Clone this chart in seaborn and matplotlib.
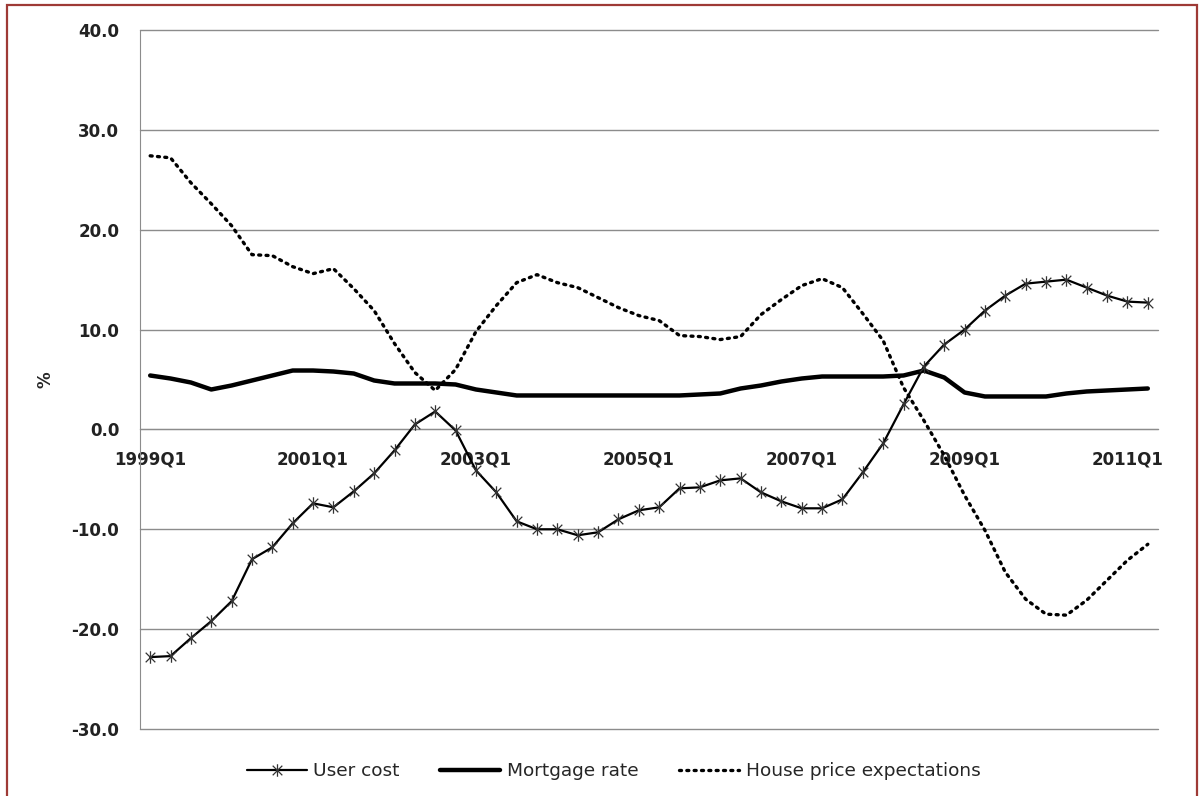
import numpy as np
import pandas as pd
import matplotlib
matplotlib.use("Agg")
import matplotlib.pyplot as plt
import seaborn as sns
from matplotlib.lines import Line2D
from matplotlib.path import Path
from matplotlib.patches import Rectangle

# quarterly data, 1999Q1 - 2011Q2
quarters = [f"{y}Q{q}" for y in range(1999, 2012) for q in range(1, 5)][:50]
tick_labels = ['1999Q1', '2001Q1', '2003Q1', '2005Q1', '2007Q1', '2009Q1', '2011Q1']

user_cost = [-22.8, -22.7, -20.9, -19.2, -17.2, -13.0, -11.8, -9.4, -7.4, -7.8,
             -6.2, -4.4, -2.1, 0.5, 1.8, -0.1, -4.1, -6.3, -9.2, -10.0,
             -10.0, -10.6, -10.3, -9.0, -8.1, -7.8, -5.9, -5.8, -5.1, -4.9,
             -6.3, -7.2, -7.9, -7.9, -7.0, -4.3, -1.4, 2.5, 6.3, 8.5,
             10.0, 11.9, 13.4, 14.6, 14.8, 15.0, 14.2, 13.4, 12.8, 12.7]

mortgage_rate = [5.4, 5.1, 4.7, 4.0, 4.4, 4.9, 5.4, 5.9, 5.9, 5.8,
                 5.6, 4.9, 4.6, 4.6, 4.6, 4.5, 4.0, 3.7, 3.4, 3.4,
                 3.4, 3.4, 3.4, 3.4, 3.4, 3.4, 3.4, 3.5, 3.6, 4.1,
                 4.4, 4.8, 5.1, 5.3, 5.3, 5.3, 5.3, 5.4, 5.9, 5.2,
                 3.7, 3.3, 3.3, 3.3, 3.3, 3.6, 3.8, 3.9, 4.0, 4.1]

house_price_exp = [27.4, 27.2, 24.7, 22.6, 20.4, 17.5, 17.4, 16.3, 15.6, 16.1,
                   14.1, 11.9, 8.6, 5.7, 3.9, 6.0, 9.8, 12.4, 14.7, 15.5,
                   14.7, 14.2, 13.2, 12.2, 11.4, 10.9, 9.4, 9.3, 9.0, 9.3,
                   11.5, 13.0, 14.4, 15.1, 14.2, 11.6, 8.9, 4.2, 0.9, -2.6,
                   -6.6, -10.1, -14.3, -17.0, -18.5, -18.6, -17.1, -15.1, -13.1, -11.5]

df = pd.DataFrame({
    'idx': np.arange(len(quarters)),
    'quarter': quarters,
    'User cost': user_cost,
    'Mortgage rate': mortgage_rate,
    'House price expectations': house_price_exp,
})

sns.set_style('white')
plt.rcParams['font.family'] = ['DejaVu Sans']

# asterisk marker: an x with a vertical bar
star = Path([(-1, -1), (1, 1), (-1, 1), (1, -1), (0, -1.3), (0, 1.3)],
            [Path.MOVETO, Path.LINETO, Path.MOVETO, Path.LINETO, Path.MOVETO, Path.LINETO])

fig = plt.figure(figsize=(12.03, 7.96), dpi=100)
ax = fig.add_axes([140 / 1203, 1 - 729 / 796, (1158 - 140) / 1203, (729 - 30) / 796])

sns.lineplot(data=df, x='idx', y='User cost', ax=ax, color='black', lw=1.6,
             marker=star, markersize=9, markeredgecolor='#333333',
             markeredgewidth=0.9, zorder=4)
sns.lineplot(data=df, x='idx', y='Mortgage rate', ax=ax, color='black', lw=3.2, zorder=3)
sns.lineplot(data=df, x='idx', y='House price expectations', ax=ax, color='black',
             lw=2.4, linestyle=(0, (0.6, 1.6)), dash_capstyle='round', zorder=3)

# spine position first: moving it resets the tick objects
for s in ['top', 'right']:
    ax.spines[s].set_visible(False)
ax.spines['bottom'].set_position(('data', 0))
ax.spines['bottom'].set_color('#8c8c8c')
ax.spines['left'].set_color('#8c8c8c')

ax.set_xlim(-0.5, 49.5)
ax.set_ylim(-30, 40)
ax.set_yticks(np.arange(-30, 41, 10))
ax.set_yticklabels([f"{v:.1f}" for v in np.arange(-30, 41, 10)],
                   fontsize=12, fontweight='bold', color='#222222')
ax.yaxis.grid(True, color='#8c8c8c', lw=1)
ax.set_axisbelow(True)
for gl in ax.get_ygridlines():
    gl.set_clip_on(False)

# labels every 8 quarters, tick marks on category boundaries
ax.set_xticks(np.arange(0, 50, 8))
ax.set_xticklabels(tick_labels, fontsize=12, fontweight='bold', color='#222222')
ax.set_xticks(np.arange(-0.5, 50, 1), minor=True)
ax.tick_params(axis='x', which='major', length=0, pad=15)
ax.tick_params(axis='x', which='minor', length=5, width=1, color='#8c8c8c', direction='out')
ax.tick_params(axis='y', length=5, width=1, color='#8c8c8c', pad=10)

ax.set_xlabel('')
ax.set_ylabel('%', fontsize=12, fontweight='bold', labelpad=12)

legend_elements = [
    Line2D([0], [0], color='black', lw=1.6, marker=star, markersize=9,
           markeredgecolor='#333333', markeredgewidth=0.9, label='User cost'),
    Line2D([0], [0], color='black', lw=3.2, label='Mortgage rate'),
    Line2D([0], [0], color='black', lw=2.4, linestyle=(0, (0.6, 1.6)),
           dash_capstyle='round', label='House price expectations'),
]
fig.legend(handles=legend_elements, loc='center', bbox_to_anchor=(0.51, 1 - 771 / 796),
           ncol=3, frameon=False, handlelength=3.25, handletextpad=0.35, columnspacing=2.2,
           prop={'size': 13.3})

fig.patches.append(Rectangle((7 / 1203, -0.02), (1197 - 7) / 1203, 1.02 - 5 / 796,
                             transform=fig.transFigure, fill=False,
                             edgecolor='#9e3a36', lw=1.6))

fig.savefig('out.png', dpi=100)
